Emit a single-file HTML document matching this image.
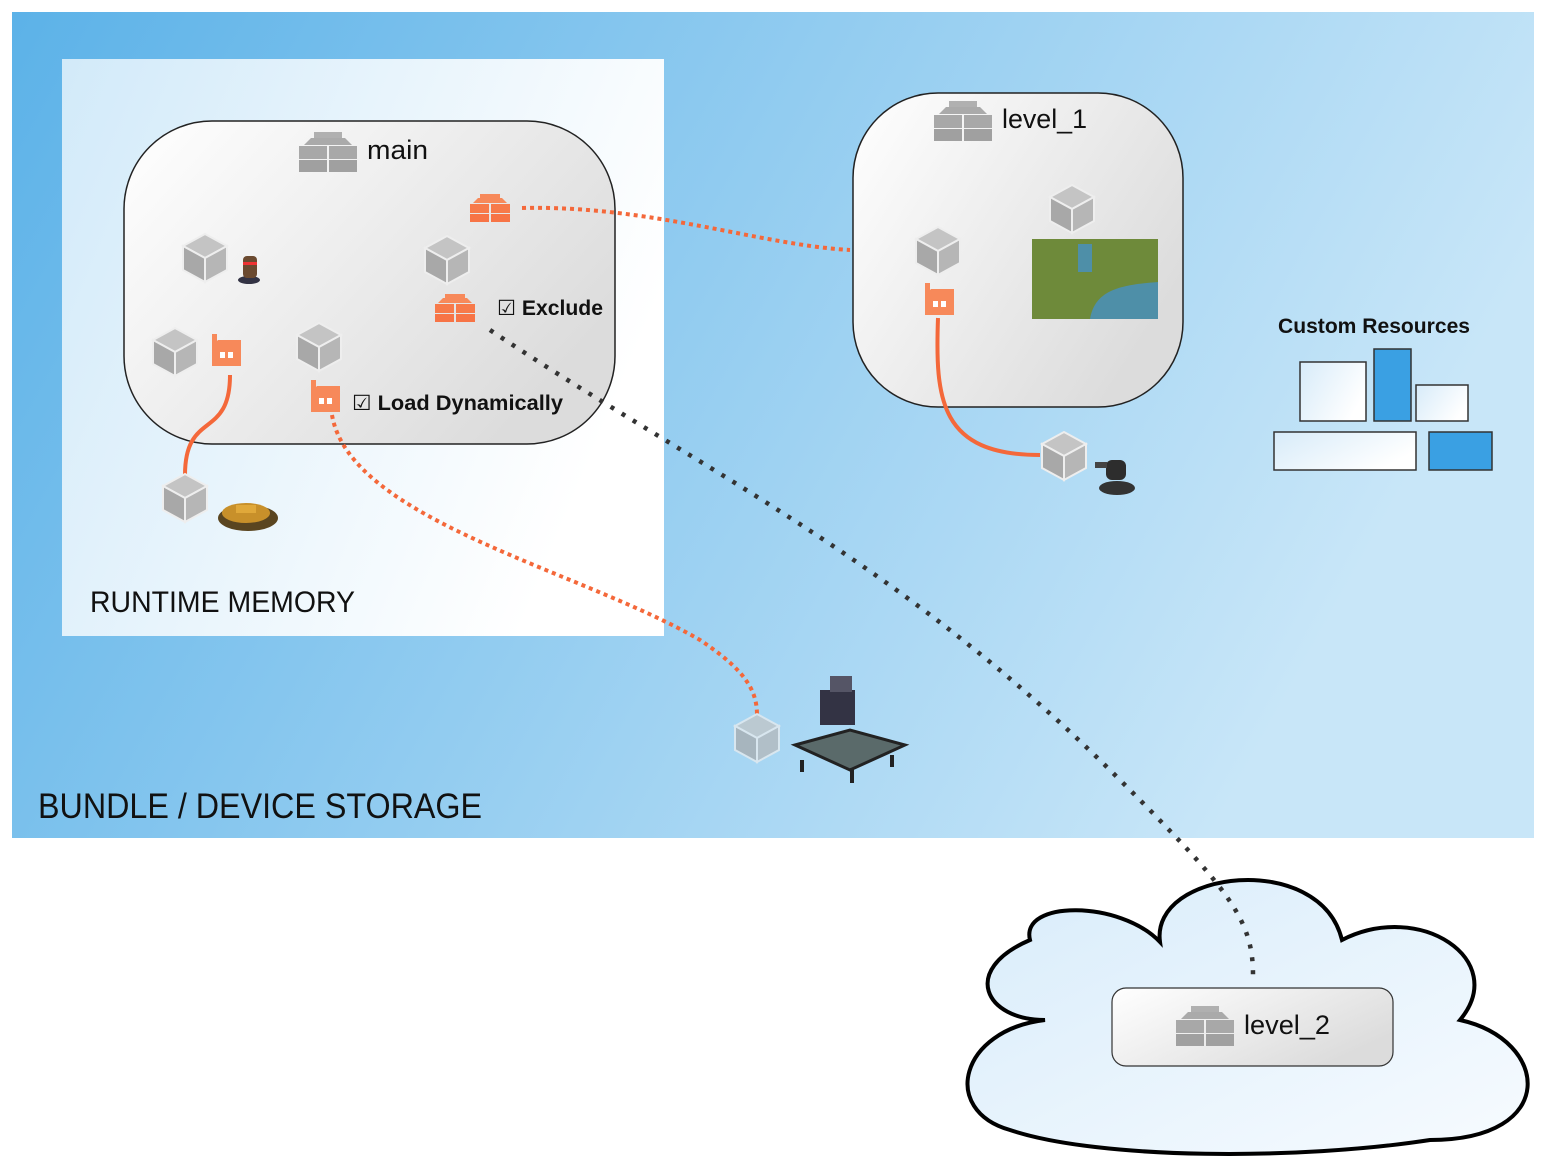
<!DOCTYPE html>
<html><head><meta charset="utf-8"><style>
html,body{margin:0;padding:0;background:#fff;}
svg{display:block;font-family:"Liberation Sans","DejaVu Sans",sans-serif;}
</style></head><body>
<svg width="1549" height="1169" viewBox="0 0 1549 1169" xmlns="http://www.w3.org/2000/svg">
<defs>
<linearGradient id="bg" x1="0" y1="0" x2="1" y2="0.3"><stop offset="0" stop-color="#5cb2e8"/><stop offset="1" stop-color="#c8e6f8"/></linearGradient>
<linearGradient id="rm" x1="0" y1="0" x2="1" y2="0.4"><stop offset="0" stop-color="#d2eaf9"/><stop offset="1" stop-color="#ffffff"/></linearGradient>
<linearGradient id="box" x1="0" y1="0" x2="1" y2="0.6"><stop offset="0" stop-color="#ffffff"/><stop offset="1" stop-color="#dcdcdc"/></linearGradient>
<linearGradient id="cl" x1="0" y1="0" x2="1" y2="1"><stop offset="0" stop-color="#d8ecfa"/><stop offset="1" stop-color="#f7fbff"/></linearGradient>
<linearGradient id="wb" x1="0" y1="0" x2="1" y2="0.5"><stop offset="0" stop-color="#d7ebf9"/><stop offset="1" stop-color="#ffffff"/></linearGradient>
<g id="cube">
<polygon points="0,-24 22,-12 0,0 -22,-12" fill="#c4c4c4" stroke="#eee" stroke-width="2"/>
<polygon points="-22,-12 0,0 0,24 -22,12" fill="#a8a8a8" stroke="#eee" stroke-width="2"/>
<polygon points="22,-12 0,0 0,24 22,12" fill="#b6b6b6" stroke="#eee" stroke-width="2"/>
</g>
<g id="bricks">
<rect x="-14" y="-20" width="28" height="13" fill="#b0b0b0"/>
<polygon points="-24,-7 -17,-14 17,-14 24,-7" fill="#aaa"/>
<rect x="-29" y="-6" width="28" height="13" fill="#a8a8a8"/>
<rect x="1" y="-6" width="28" height="13" fill="#a8a8a8"/>
<rect x="-29" y="8" width="28" height="12" fill="#a0a0a0"/>
<rect x="1" y="8" width="28" height="12" fill="#a0a0a0"/>
</g>
<g id="obricks">
<rect x="-10" y="-14" width="20" height="8" fill="#f7895a"/>
<polygon points="-17,-5 -12,-10 12,-10 17,-5" fill="#f7895a"/>
<rect x="-20" y="-4" width="19" height="9" fill="#f77a4a"/>
<rect x="1" y="-4" width="19" height="9" fill="#f77a4a"/>
<rect x="-20" y="6" width="19" height="8" fill="#f77446"/>
<rect x="1" y="6" width="19" height="8" fill="#f77446"/>
</g>
<g id="factory">
<rect x="-14" y="-18" width="5" height="12" fill="#f7895a"/>
<polygon points="-14,-6 -8,-12 15,-12 15,14 -14,14" fill="#f7895a"/>
<rect x="-6" y="0" width="5" height="6" fill="#fff"/>
<rect x="2" y="0" width="5" height="6" fill="#fff"/>
</g>
</defs>
<rect x="12" y="12" width="1522" height="826" fill="url(#bg)"/>
<rect x="62" y="59" width="602" height="577" fill="url(#rm)"/>
<rect x="124" y="121" width="491" height="323" rx="88" fill="url(#box)" stroke="#222" stroke-width="1.5"/>
<rect x="853" y="93" width="330" height="314" rx="85" fill="url(#box)" stroke="#222" stroke-width="1.5"/>
<path d="M1045,1020 C985,1020 960,970 1030,940 C1020,900 1120,900 1160,942 C1150,870 1320,850 1342,940 C1420,900 1510,960 1460,1020 C1550,1040 1560,1140 1430,1140 C1300,1160 1100,1160 1010,1130 C940,1110 960,1030 1045,1020 Z" fill="url(#cl)" stroke="#000" stroke-width="4"/>
<rect x="1112" y="988" width="281" height="78" rx="14" fill="url(#box)" stroke="#333" stroke-width="1.2"/>
<path d="M230,375 C230,440 185,410 185,475" fill="none" stroke="#f4683a" stroke-width="4"/>
<path d="M938,318 C935,400 940,455 1040,455" fill="none" stroke="#f4683a" stroke-width="4"/>
<path d="M522,208 C650,205 760,245 850,250" fill="none" stroke="#f4683a" stroke-width="4" stroke-dasharray="4,4"/>
<path d="M332,415 C350,520 580,570 700,640 C745,670 757,690 757,715" fill="none" stroke="#f4683a" stroke-width="4" stroke-dasharray="4,4"/>
<path d="M490,330 C700,470 900,560 1120,780 C1230,890 1253,920 1253,975" fill="none" stroke="#333" stroke-width="4.5" stroke-dasharray="4,9"/>
<use href="#cube" x="205" y="258"/><use href="#cube" x="447" y="260"/><use href="#cube" x="175" y="352"/><use href="#cube" x="319" y="347"/><use href="#cube" x="185" y="498"/><use href="#cube" x="938" y="251"/><use href="#cube" x="1072" y="209"/><use href="#cube" x="1064" y="456"/>
<g opacity="0.7"><use href="#cube" x="757" y="738"/></g>
<use href="#bricks" x="328" y="152"/><use href="#bricks" x="963" y="121"/><use href="#bricks" x="1205" y="1026"/>
<use href="#obricks" x="490" y="208"/><use href="#obricks" x="455" y="308"/>
<use href="#factory" x="226" y="352"/><use href="#factory" x="325" y="398"/><use href="#factory" x="939" y="301"/>
<g><ellipse cx="249" cy="280" rx="11" ry="4" fill="#334"/><rect x="243" y="256" width="14" height="22" rx="4" fill="#6b4a30"/><rect x="243" y="262" width="14" height="3" fill="#e33"/></g>
<g><ellipse cx="248" cy="518" rx="30" ry="13" fill="#5a4520"/><ellipse cx="246" cy="513" rx="24" ry="10" fill="#c8902a"/><rect x="236" y="505" width="20" height="8" fill="#e0a83a"/></g>
<g><ellipse cx="1117" cy="488" rx="18" ry="7" fill="#333"/><rect x="1106" y="460" width="20" height="20" rx="6" fill="#2d2d2d"/><rect x="1095" y="462" width="12" height="6" fill="#444"/></g>
<rect x="1032" y="239" width="126" height="80" fill="#6e8a3a"/><path d="M1090,319 C1095,290 1120,285 1158,282 L1158,319 Z" fill="#4e8fa8"/><rect x="1078" y="244" width="14" height="28" fill="#4e8fa8"/>
<g><polygon points="795,745 850,730 905,745 850,770" fill="#5a6a6a" stroke="#222" stroke-width="3"/><rect x="820" y="690" width="35" height="35" fill="#334" /><rect x="830" y="676" width="22" height="16" fill="#556"/><rect x="800" y="760" width="4" height="12" fill="#222"/><rect x="850" y="768" width="4" height="15" fill="#222"/><rect x="890" y="755" width="4" height="12" fill="#222"/></g>
<rect x="1300" y="362" width="66" height="59" fill="url(#wb)" stroke="#333" stroke-width="1.5"/>
<rect x="1374" y="349" width="37" height="72" fill="#3aa0e3" stroke="#333" stroke-width="1.5"/>
<rect x="1416" y="385" width="52" height="36" fill="url(#wb)" stroke="#333" stroke-width="1.5"/>
<rect x="1274" y="432" width="142" height="38" fill="url(#wb)" stroke="#333" stroke-width="1.5"/>
<rect x="1429" y="432" width="63" height="38" fill="#3aa0e3" stroke="#333" stroke-width="1.5"/>
<g fill="#111">
<text x="367" y="159" font-size="27" textLength="61" lengthAdjust="spacingAndGlyphs">main</text>
<text x="1002" y="128" font-size="27" textLength="85" lengthAdjust="spacingAndGlyphs">level_1</text>
<text x="1244" y="1034" font-size="27" textLength="86" lengthAdjust="spacingAndGlyphs">level_2</text>
<text x="90" y="612" font-size="30" textLength="265" lengthAdjust="spacingAndGlyphs">RUNTIME MEMORY</text>
<text x="38" y="818" font-size="35" textLength="444" lengthAdjust="spacingAndGlyphs">BUNDLE / DEVICE STORAGE</text>
<text x="1278" y="333" font-size="21" font-weight="bold" textLength="192" lengthAdjust="spacingAndGlyphs">Custom Resources</text>
<text x="497" y="315" font-size="21" font-weight="bold" textLength="106" lengthAdjust="spacingAndGlyphs">☑ Exclude</text>
<text x="352" y="410" font-size="21" font-weight="bold" textLength="211" lengthAdjust="spacingAndGlyphs">☑ Load Dynamically</text>
</g>
</svg>
</body></html>
